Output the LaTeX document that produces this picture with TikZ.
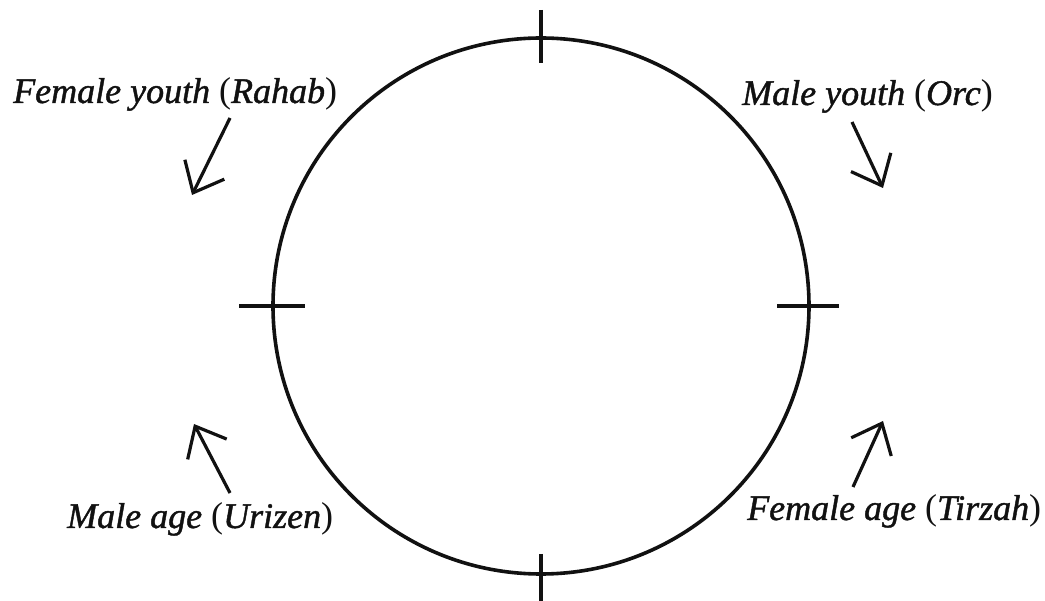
\documentclass[tikz,border=0pt]{standalone}
\usepackage{fontspec}
\setmainfont{Liberation Serif}[ItalicFeatures={FakeBold=1.2}]
\usepackage{tikz}
\usetikzlibrary{arrows.meta,positioning}
\definecolor{inkblack}{HTML}{111111}
\newcommand\persona[1]{{\upshape(}#1{\upshape)}}
\tikzset{
  ring/.style={circle, draw=inkblack, line width=3.6pt, minimum size=536pt, inner sep=0pt, outer sep=0pt},
  tickmark/.style={draw=inkblack, line width=3.2pt},
  turnarrow/.style={-{Straight Barb[length=26pt, width=44pt, line width=3.2pt]}, line width=3.2pt, draw=inkblack},
  figname/.style={anchor=base west, inner sep=0pt, font=\fontsize{36}{40}\selectfont\itshape, text=inkblack}
}

\begin{document}
\begin{tikzpicture}[x=1pt, y=-1pt]
  \useasboundingbox (0,0) rectangle (1045,601);
  \node[ring] (wheel) at (541,306) {};

  % quarter ticks
  \draw[tickmark] (wheel.north) +(0,-28) -- +(0,25);
  \draw[tickmark] (wheel.south) +(0,-20) -- +(0,30);
  \draw[tickmark] (wheel.west) +(-34,0) -- +(32,0);
  \draw[tickmark] (wheel.east) +(-32,0) -- +(30,0);

  \node[figname] (fyouth) at (13,103) {Female youth \persona{Rahab}};
  \node[figname] (myouth) at (742,105) {Male youth \persona{Orc}};
  \node[figname] (mage) at (67,528) {Male age \persona{Urizen}};
  \node[figname] (fage) at (747,520) {Female age \persona{Tirzah}};

  \coordinate (fyouthtail) at (230,118);
  \coordinate (fyouthtip) at (192,195);
  \coordinate (myouthtail) at (852,122);
  \coordinate (myouthtip) at (883,188);
  \coordinate (magetail) at (230,493);
  \coordinate (magetip) at (194,424);
  \coordinate (fagetail) at (853,487);
  \coordinate (fagetip) at (883,421);

  \draw[turnarrow] (fyouthtail) -- (fyouthtip);
  \draw[turnarrow] (myouthtail) -- (myouthtip);
  \draw[turnarrow] (magetail) -- (magetip);
  \draw[turnarrow] (fagetail) -- (fagetip);
\end{tikzpicture}
\end{document}
